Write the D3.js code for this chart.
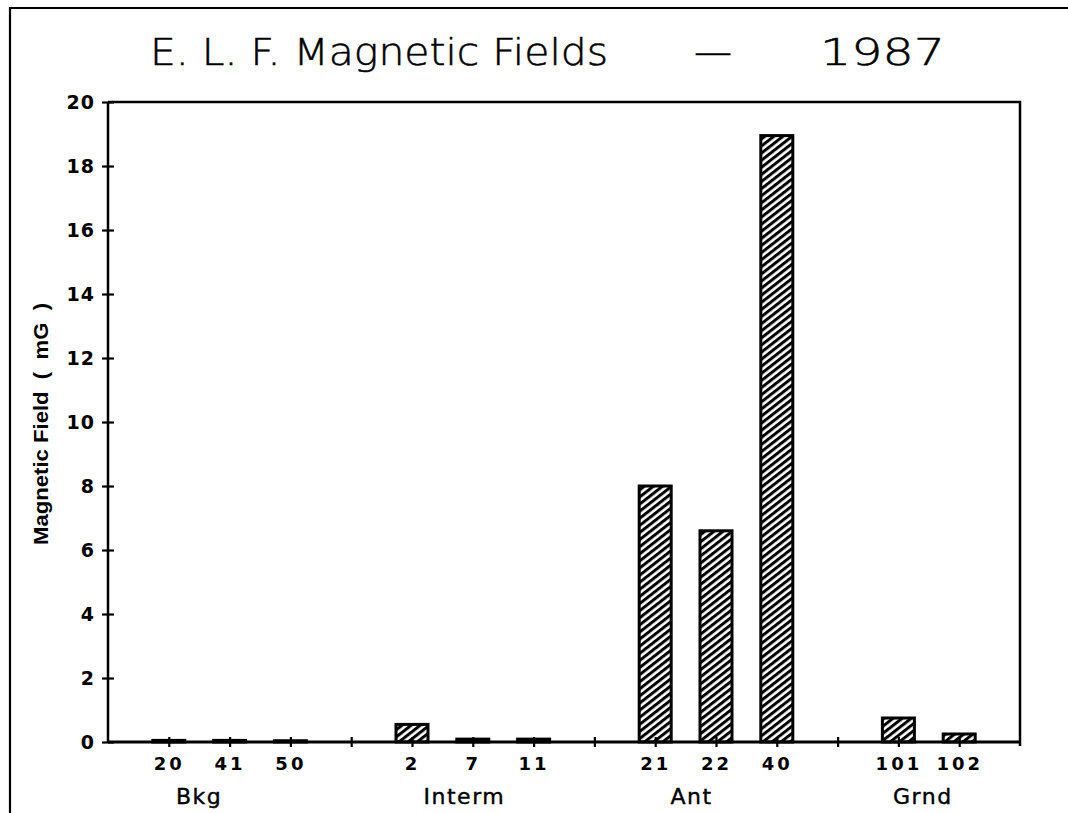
<!DOCTYPE html>
<html><head><meta charset="utf-8">
<script src="https://cdn.jsdelivr.net/npm/d3@7"></script>
<style>html,body{margin:0;padding:0;background:#fff;}svg{display:block;}</style>
</head><body>
<script>
// ---- data ----
const groups = ["Bkg", "Interm", "Ant", "Grnd"];
const siteLabels = [["20","41","50"], ["2","7","11"], ["21","22","40"], ["101","102"]];
const siteValues = [[0.05,0.05,0.04], [0.55,0.09,0.09], [8.0,6.6,18.95], [0.75,0.25]];
const yTicks = [0,2,4,6,8,10,12,14,16,18,20];
const titleParts = ["E. L. F. Magnetic Fields", "\u2014", "1987"];
const yTitle = "Magnetic Field  (  mG  )";

// ---- layout ----
const W = 1068, H = 813;
const L = 108, R = 1020, T = 102, B = 742;
const svg = d3.select("body").append("svg").attr("width", W).attr("height", H);

// flatten into slots (each group 3 slots + 1 spacer)
const rows = [];
const spacers = [];
let slot = 1;
groups.forEach((g, gi) => {
  siteLabels[gi].forEach((s, si) => {
    rows.push({group: g, label: s, value: siteValues[gi][si], slot: slot});
    slot++;
  });
  if (gi < groups.length - 1) { spacers.push(slot); slot++; }
});
const nSlots = 15;

const x = d3.scaleLinear().domain([0, nSlots]).range([L, R]);
const y = d3.scaleLinear().domain([0, 20]).range([B, T]);
const barW = 32;

// hatch pattern
const defs = svg.append("defs");
const pat = defs.append("pattern").attr("id", "hatch")
  .attr("patternUnits", "userSpaceOnUse").attr("width", 10).attr("height", 5.6)
  .attr("patternTransform", "rotate(-38)");
pat.append("rect").attr("width", 10).attr("height", 5.6).attr("fill", "#fff");
pat.append("rect").attr("width", 10).attr("height", 3.0).attr("fill", "#000");

// outer frame
svg.append("path").attr("d", `M10,${H} L10,8 L${W},8`).attr("fill","none")
  .attr("stroke","#000").attr("stroke-width",2.2);

// title
const tf = "'DejaVu Sans', sans-serif";
const tg = svg.append("g").attr("font-family", "'DejaVu Sans', sans-serif")
  .attr("font-weight", 200).attr("font-size", 38).attr("fill", "#000")
  .attr("stroke", "#000").attr("stroke-width", 0.5);
tg.append("text").attr("x", 150).attr("y", 65).attr("textLength", 458).attr("lengthAdjust","spacingAndGlyphs").text(titleParts[0]);
tg.append("text").attr("x", 713).attr("y", 65).attr("text-anchor","middle").text(titleParts[1]);
tg.append("text").attr("x", 820).attr("y", 65).attr("textLength", 125).attr("lengthAdjust","spacingAndGlyphs").text(titleParts[2]);

// bars
svg.append("g").selectAll("rect").data(rows).join("rect")
  .attr("x", d => x(d.slot) - barW/2)
  .attr("y", d => y(d.value))
  .attr("width", barW)
  .attr("height", d => Math.max(0, B - y(d.value)))
  .attr("fill", "url(#hatch)")
  .attr("stroke", "#000").attr("stroke-width", 3);

// plot frame (top & right)
svg.append("path").attr("d", `M${L},${T} L${R},${T} L${R},${B+4}`).attr("fill","none")
  .attr("stroke","#000").attr("stroke-width",2.5);

// y axis
const yAxis = d3.axisLeft(y).tickValues(yTicks).tickSize(6).tickPadding(8).tickFormat(d3.format("d"));
const ya = svg.append("g").attr("transform", `translate(${L},0)`).call(yAxis);
ya.select(".domain").attr("stroke-width", 2.5).attr("d", `M0,${T}V${B}`);
ya.selectAll(".tick line").attr("x1", -6).attr("x2", 6).attr("stroke-width", 2.2);
ya.selectAll(".tick text").attr("font-family", tf).attr("font-weight","bold").attr("font-size", 19)
  .attr("letter-spacing", 1).attr("dy","0.35em").attr("x", -13);

// x axis
const allTicks = rows.map(d => d.slot).concat(spacers);
const labelBySlot = {};
rows.forEach(d => labelBySlot[d.slot] = d.label);
const xAxis = d3.axisBottom(x).tickValues(allTicks).tickSize(5).tickPadding(20)
  .tickFormat(d => labelBySlot[d] || "");
const xa = svg.append("g").attr("transform", `translate(0,${B})`).call(xAxis);
xa.select(".domain").attr("stroke-width", 2.8).attr("d", `M${L},0H${R}`);
xa.selectAll(".tick line").attr("y1", -5).attr("y2", 5).attr("stroke-width", 2.2);
xa.selectAll(".tick text").attr("font-family", tf).attr("font-weight","bold").attr("font-size", 18)
  .attr("letter-spacing", 3).attr("dy", "0.15em");

// group labels
const groupDx = [0, 22, 6, -6];
svg.append("g").selectAll("text").data(groups).join("text")
  .attr("x", (g, i) => {
    const r = rows.filter(d => d.group === g);
    return (x(r[0].slot) + x(r[1].slot)) / 2 + groupDx[i];
  })
  .attr("y", 804).attr("text-anchor", "middle")
  .attr("font-family", tf).attr("font-size", 22).attr("letter-spacing", 1.5)
  .attr("stroke", "#000").attr("stroke-width", 0.4)
  .text(g => g);

// y title
svg.append("text").attr("transform", "translate(48,424) rotate(-90)")
  .attr("text-anchor", "middle")
  .attr("font-family", "'Liberation Sans Narrow', 'Liberation Sans', sans-serif")
  .attr("font-weight", "bold").attr("font-size", 21)
  .attr("textLength", 242).attr("lengthAdjust", "spacingAndGlyphs")
  .attr("xml:space","preserve").style("white-space","pre")
  .text(yTitle);
</script>
</body></html>
